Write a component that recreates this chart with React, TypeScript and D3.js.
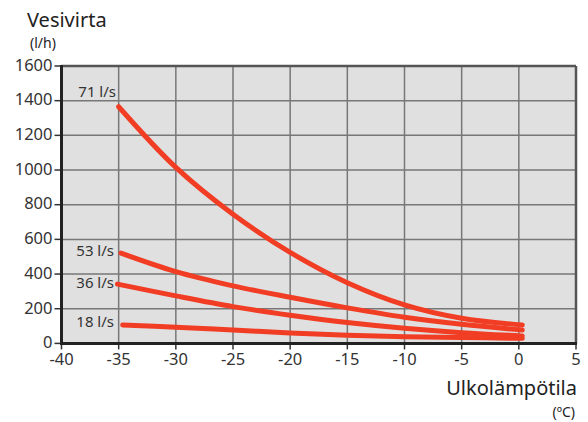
import React, { useEffect, useRef } from 'react';
import * as d3 from 'd3';

const temps = [-35, -30, -25, -20, -15, -10, -5, 0.3];
const flow71 = [1365, 1015, 745, 525, 350, 222, 145, 106];
const flow53 = [521, 414, 332, 266, 205, 151, 110, 77];
const flow36 = [342, 274, 212, 162, 120, 87, 62, 43];
const flow18 = [106, 93, 77, 60, 47, 39, 34, 29];
const startTemps = [-35, -34.8, -35.1, -34.65];
const seriesLabels = ['71 l/s', '53 l/s', '36 l/s', '18 l/s'];
const xTicks = [-40, -35, -30, -25, -20, -15, -10, -5, 0, 5];
const yTicks = [0, 200, 400, 600, 800, 1000, 1200, 1400, 1600];

const App: React.FC = () => {
  const svgRef = useRef<SVGSVGElement>(null);

  useEffect(() => {
    const svg = d3.select(svgRef.current);
    svg.selectAll('*').remove();

    const left = 61.5, right = 576, top = 66, bottom = 343.4;
    const font = "'Noto Sans', 'Open Sans', sans-serif";
    const textColor = '#333';

    const x = d3.scaleLinear().domain([-40, 5]).range([left, right]);
    const y = d3.scaleLinear().domain([0, 1600]).range([bottom, top]);

    // plot background
    svg.append('rect')
      .attr('x', left).attr('y', top)
      .attr('width', right - left).attr('height', bottom - top)
      .attr('fill', '#e0e0e0');

    // grid
    svg.append('g')
      .selectAll('line')
      .data(xTicks.slice(1, -1))
      .enter().append('line')
      .attr('x1', d => x(d)).attr('x2', d => x(d))
      .attr('y1', top).attr('y2', bottom)
      .attr('stroke', '#777').attr('stroke-width', 1.5);

    svg.append('g')
      .selectAll('line')
      .data(yTicks.slice(1, -1))
      .enter().append('line')
      .attr('x1', left).attr('x2', right)
      .attr('y1', d => y(d)).attr('y2', d => y(d))
      .attr('stroke', '#777').attr('stroke-width', 1.5);

    // frame: top & right dark gray
    svg.append('line')
      .attr('x1', left).attr('x2', right).attr('y1', top).attr('y2', top)
      .attr('stroke', '#555').attr('stroke-width', 2.5);
    svg.append('line')
      .attr('x1', right).attr('x2', right).attr('y1', top).attr('y2', bottom)
      .attr('stroke', '#555').attr('stroke-width', 2.5);

    // y axis
    const yAxis = svg.append('g');
    yAxis.selectAll('line')
      .data(yTicks)
      .enter().append('line')
      .attr('x1', left - 7).attr('x2', left)
      .attr('y1', d => y(d)).attr('y2', d => y(d))
      .attr('stroke', '#333').attr('stroke-width', 1.5);
    yAxis.selectAll('text')
      .data(yTicks)
      .enter().append('text')
      .attr('x', left - 9)
      .attr('y', d => y(d) - 1)
      .attr('dy', '0.35em')
      .attr('text-anchor', 'end')
      .style('font-family', font)
      .style('font-size', '16.5px')
      .style('fill', textColor)
      .text(d => d);

    // x axis
    const xAxis = svg.append('g');
    xAxis.selectAll('line')
      .data(xTicks)
      .enter().append('line')
      .attr('x1', d => x(d)).attr('x2', d => x(d))
      .attr('y1', bottom).attr('y2', bottom + 6)
      .attr('stroke', '#333').attr('stroke-width', 1.5);
    xAxis.selectAll('text')
      .data(xTicks)
      .enter().append('text')
      .attr('x', d => x(d))
      .attr('y', bottom + 22)
      .attr('text-anchor', 'middle')
      .style('font-family', font)
      .style('font-size', '16.5px')
      .style('fill', textColor)
      .text(d => d);

    // left & bottom axis lines, near black
    svg.append('line')
      .attr('x1', left).attr('x2', left).attr('y1', top - 1).attr('y2', bottom + 1.5)
      .attr('stroke', '#222').attr('stroke-width', 3);
    svg.append('line')
      .attr('x1', left - 1.5).attr('x2', right + 1).attr('y1', bottom).attr('y2', bottom)
      .attr('stroke', '#222').attr('stroke-width', 3);

    // curves
    const allSeries = [flow71, flow53, flow36, flow18];
    allSeries.forEach((s, k) => {
      const tt = temps.slice();
      tt[0] = startTemps[k];
      const ln = d3.line<number>()
        .x((_, i) => x(tt[i]))
        .y(d => y(d))
        .curve(d3.curveCatmullRom.alpha(0.5));
      svg.append('path')
        .attr('d', ln(s) || '')
        .attr('fill', 'none')
        .attr('stroke', '#f23d25')
        .attr('stroke-width', 5)
        .attr('stroke-linecap', 'round');
    });

    // series labels
    const labelY = [92, 251, 283, 322];
    seriesLabels.forEach((t, k) => {
      svg.append('text')
        .attr('x', k === 0 ? 116 : 114)
        .attr('y', labelY[k])
        .attr('dy', '0.35em')
        .attr('text-anchor', 'end')
        .style('font-family', font)
        .style('font-size', '15px')
        .style('fill', textColor)
        .text(t);
    });

    // axis titles
    svg.append('text')
      .attr('x', 27).attr('y', 27)
      .style('font-family', font).style('font-size', '20px').style('fill', '#222')
      .text('Vesivirta');
    svg.append('text')
      .attr('x', 30).attr('y', 48)
      .style('font-family', font).style('font-size', '14px').style('fill', '#222')
      .text('(l/h)');
    svg.append('text')
      .attr('x', 577).attr('y', 395)
      .attr('text-anchor', 'end')
      .style('font-family', font).style('font-size', '20px').style('fill', '#222')
      .text('Ulkolämpötila');
    svg.append('text')
      .attr('x', 575).attr('y', 417)
      .attr('text-anchor', 'end')
      .style('font-family', font).style('font-size', '14px').style('fill', '#222')
      .text('(ºC)');
  }, []);

  return (
    <svg
      ref={svgRef}
      width={588}
      height={422}
      style={{ position: 'absolute', left: 0, top: 0, background: '#fff' }}
    />
  );
};

export default App;
